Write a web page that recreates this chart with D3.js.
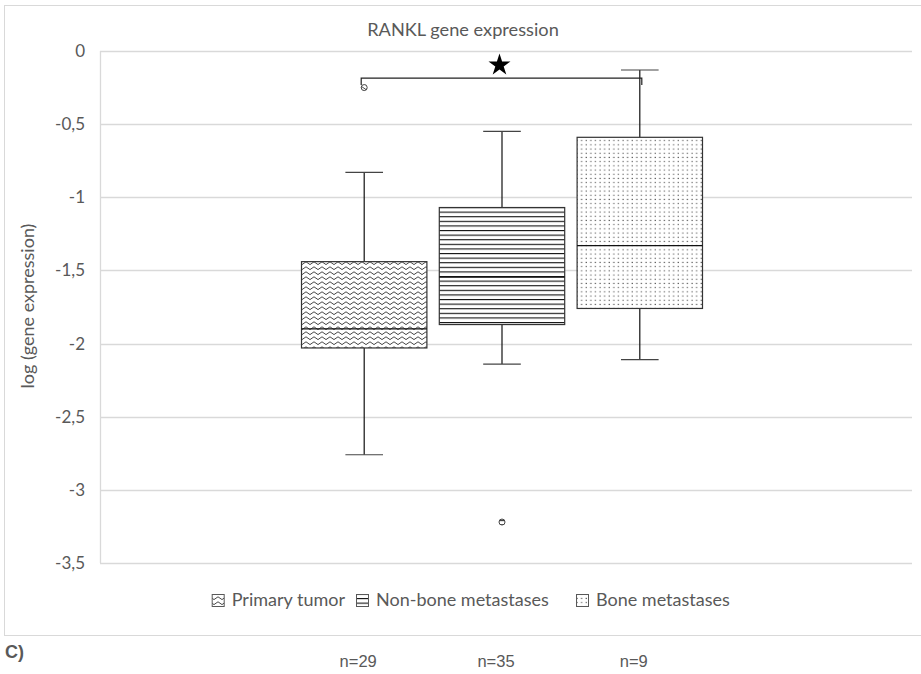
<!DOCTYPE html>
<html>
<head>
<meta charset="utf-8">
<script src="https://cdn.jsdelivr.net/npm/d3@7"></script>
<style>
  body { margin: 0; background: #fff; }
  text { font-family: Lato, "Open Sans", sans-serif; fill: #595959; }
</style>
</head>
<body>
<div id="chart"></div>
<script>
// series and box statistics
const series = ["Primary tumor", "Non-bone metastases", "Bone metastases"];
const patternIds = ["wave", "hlines", "dots"];
const whiskerLow = [-2.76, -2.14, -2.11];
const q1 = [-2.03, -1.87, -1.76];
const median = [-1.90, -1.545, -1.33];
const q3 = [-1.44, -1.07, -0.59];
const whiskerHigh = [-0.83, -0.55, -0.13];
const outliers = [[-0.25], [-3.22], []];
const nLabels = ["n=29", "n=35", "n=9"];
const yTicks = [0, -0.5, -1, -1.5, -2, -2.5, -3, -3.5];
const bracketLevel = -0.185;

const width = 921, height = 674;
const plot = { left: 100, right: 912, top: 51, bottom: 563 };

const svg = d3.select("#chart").append("svg")
  .attr("width", width).attr("height", height);

// patterns
const defs = svg.append("defs");
const wave = defs.append("pattern").attr("id", "wave")
  .attr("patternUnits", "userSpaceOnUse").attr("width", 8).attr("height", 5);
wave.append("rect").attr("width", 8).attr("height", 5).attr("fill", "#fff");
wave.append("path").attr("d", "M0,3.2 Q2,0.4 4,3.2 T8,3.2")
  .attr("fill", "none").attr("stroke", "#333").attr("stroke-width", 0.9);

const hl = defs.append("pattern").attr("id", "hlines")
  .attr("patternUnits", "userSpaceOnUse").attr("width", 8).attr("height", 4.6);
hl.append("rect").attr("width", 8).attr("height", 4.6).attr("fill", "#fff");
hl.append("rect").attr("y", 0).attr("width", 8).attr("height", 1.1).attr("fill", "#111");

const dots = defs.append("pattern").attr("id", "dots")
  .attr("patternUnits", "userSpaceOnUse").attr("width", 4.6).attr("height", 4.2);
dots.append("rect").attr("width", 4.6).attr("height", 4.2).attr("fill", "#fff");
dots.append("rect").attr("x", 1.5).attr("y", 1.5).attr("width", 1.1).attr("height", 1.1).attr("fill", "#444");

// frame
svg.append("rect")
  .attr("x", 4.5).attr("y", 5.5).attr("width", 930).attr("height", 630)
  .attr("fill", "none").attr("stroke", "#d9d9d9");

const y = d3.scaleLinear().domain([-3.5, 0]).range([plot.bottom, plot.top]);
const x = d3.scaleBand().domain(series).range([301.5, 702.5]).paddingInner(0.09);

// grid
svg.append("g").selectAll("line").data(yTicks).join("line")
  .attr("x1", plot.left).attr("x2", plot.right)
  .attr("y1", d => Math.round(y(d)) + 0.5).attr("y2", d => Math.round(y(d)) + 0.5)
  .attr("stroke", "#d9d9d9").attr("stroke-width", 1.3);

svg.append("line")
  .attr("x1", plot.left + 0.5).attr("x2", plot.left + 0.5)
  .attr("y1", plot.top).attr("y2", plot.bottom)
  .attr("stroke", "#d9d9d9").attr("stroke-width", 1.3);

// y axis labels
const fmt = v => String(v).replace(".", ",");
const yAxis = svg.append("g").attr("transform", `translate(${plot.left - 15},0)`)
  .call(d3.axisLeft(y).tickValues(yTicks).tickFormat(fmt).tickSize(0).tickPadding(0));
yAxis.select(".domain").remove();
yAxis.selectAll("text").attr("font-size", 17).attr("fill", "#595959")
  .style("font-family", "Lato, sans-serif");

// title and y label
svg.append("text").attr("x", 463).attr("y", 36).attr("text-anchor", "middle")
  .attr("font-size", 18.2).text("RANKL gene expression");

svg.append("text").attr("transform", "translate(34,306) rotate(-90)")
  .attr("text-anchor", "middle").attr("font-size", 18)
  .text("log (gene expression)");

// boxes
const bw = x.bandwidth();
const capW = bw * 0.3;
const g = svg.append("g").selectAll("g").data(series).join("g");

g.append("line")
  .attr("x1", d => x(d) + bw / 2).attr("x2", d => x(d) + bw / 2)
  .attr("y1", (d, i) => y(whiskerHigh[i])).attr("y2", (d, i) => y(q3[i]))
  .attr("stroke", "#111").attr("stroke-width", 1.2);
g.append("line")
  .attr("x1", d => x(d) + bw / 2).attr("x2", d => x(d) + bw / 2)
  .attr("y1", (d, i) => y(q1[i])).attr("y2", (d, i) => y(whiskerLow[i]))
  .attr("stroke", "#111").attr("stroke-width", 1.2);
[whiskerHigh, whiskerLow].forEach(arr => {
  g.append("line")
    .attr("x1", d => x(d) + bw / 2 - capW / 2).attr("x2", d => x(d) + bw / 2 + capW / 2)
    .attr("y1", (d, i) => y(arr[i])).attr("y2", (d, i) => y(arr[i]))
    .attr("stroke", "#444").attr("stroke-width", 1.2);
});

g.append("rect")
  .attr("x", d => x(d)).attr("width", bw)
  .attr("y", (d, i) => y(q3[i])).attr("height", (d, i) => y(q1[i]) - y(q3[i]))
  .attr("fill", (d, i) => `url(#${patternIds[i]})`)
  .attr("stroke", "#333").attr("stroke-width", 1.2);

g.append("line")
  .attr("x1", d => x(d)).attr("x2", d => x(d) + bw)
  .attr("y1", (d, i) => y(median[i])).attr("y2", (d, i) => y(median[i]))
  .attr("stroke", "#111").attr("stroke-width", 1.3);

// outliers
series.forEach((s, i) => {
  outliers[i].forEach(v => {
    svg.append("circle").attr("cx", x(s) + bw / 2).attr("cy", y(v)).attr("r", 3)
      .attr("fill", `url(#${patternIds[i]})`).attr("stroke", "#444").attr("stroke-width", 1);
  });
});

// significance bracket
const bx1 = x(series[0]) + bw / 2 - 3, bx2 = x(series[2]) + bw / 2 + 2;
svg.append("path")
  .attr("d", `M${bx1},${y(bracketLevel) + 7}V${y(bracketLevel)}H${bx2}V${y(bracketLevel) + 7}`)
  .attr("fill", "none").attr("stroke", "#222").attr("stroke-width", 1.2);
svg.append("path")
  .attr("d", d3.symbol(d3.symbolStar, 150)())
  .attr("transform", `translate(${(bx1 + bx2) / 2 - 2},${y(bracketLevel) - 13})`)
  .attr("fill", "#000");

// legend
const legend = svg.append("g");
const iconX = [0, 356, 576];
const lgY = 594;
// primary tumor entry placed to end just before the second icon
series.forEach((s, i) => {
  const lg = legend.append("g");
  const t = lg.append("text").attr("y", lgY + 12).attr("font-size", 18).text(s);
  const tw = t.node().getComputedTextLength();
  let ix = iconX[i];
  if (i === 0) ix = iconX[1] - 13 - tw - 6 - 12;
  lg.append("rect").attr("x", ix + 0.5).attr("y", lgY + 0.5).attr("width", 12).attr("height", 12)
    .attr("fill", `url(#${patternIds[i]})`).attr("stroke", "#595959");
  t.attr("x", ix + 20);
});

// panel letter and n labels
svg.append("text").attr("x", 5).attr("y", 658).attr("font-size", 18)
  .attr("font-weight", "bold").style("font-family", "'Liberation Sans Narrow', 'Liberation Sans', sans-serif")
  .attr("fill", "#000").text("C)");
svg.append("g").selectAll("text").data(series).join("text")
  .attr("x", (d, i) => x(d) + bw / 2 - 6).attr("y", 667)
  .attr("text-anchor", "middle").attr("font-size", 16.5)
  .style("font-family", "'Liberation Sans Narrow', 'Liberation Sans', sans-serif")
  .attr("fill", "#000").text((d, i) => nLabels[i]);
</script>
</body>
</html>
